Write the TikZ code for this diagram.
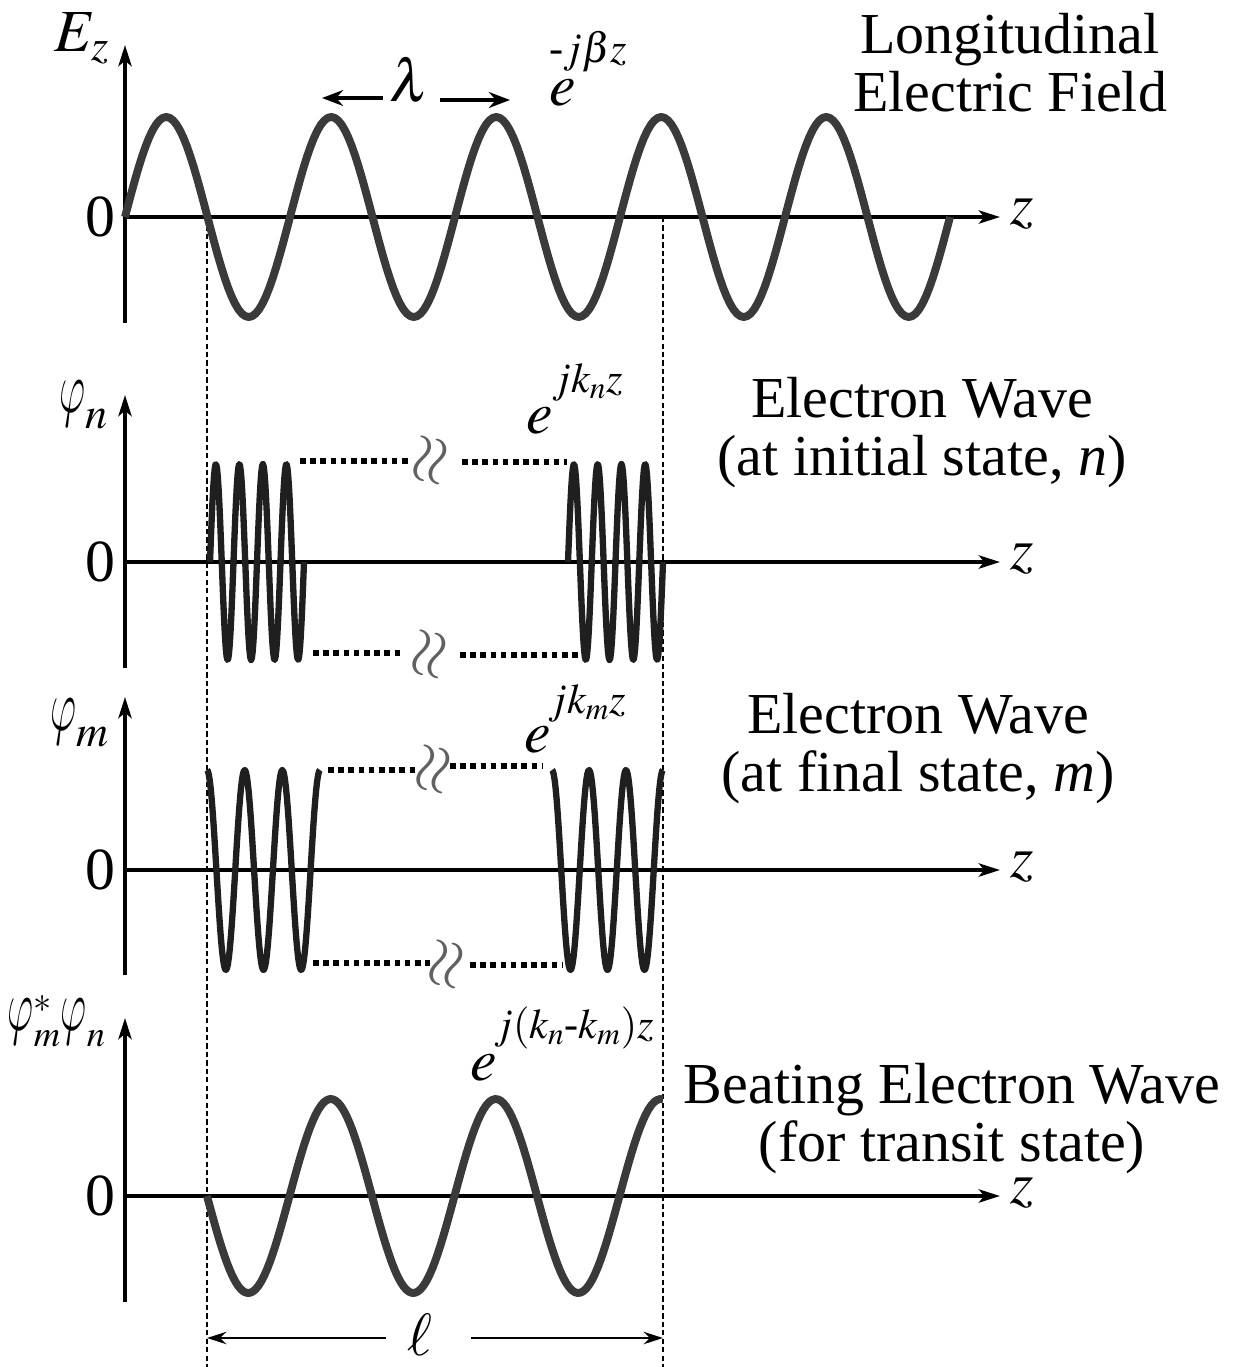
\documentclass[tikz,border=0pt]{standalone}
\usepackage{graphicx}
\usepackage{mathptmx}
\usepackage{fontspec}
\setmainfont{Liberation Serif}
\usetikzlibrary{arrows.meta,positioning}

\DeclareSymbolFont{lmletters}{OML}{lmm}{m}{it}
\DeclareMathSymbol{\cmphi}{\mathord}{lmletters}{"27}
\newcommand{\curlyphi}{\resizebox*{0.52cm}{0.92cm}{$\cmphi$}}

\definecolor{wavegray}{HTML}{3A3A3A}

\begin{document}
\begin{tikzpicture}[
        x=0.02cm, y=-0.02cm,
        every node/.style={inner sep=0pt, outer sep=0pt},
        axis/.style={line width=2.2pt, -{Stealth[length=12pt, width=7.5pt, inset=3pt]}},
        bigwave/.style={line width=4.5pt, draw=wavegray, line join=round},
        fastwave/.style={line width=3.6pt, draw=black!88, line join=round},
        guide/.style={line width=1.3pt, dash pattern=on 3pt off 1.8pt},
        gap/.style={line width=3.2pt, dash pattern=on 3.2pt off 2.6pt},
        brk/.style={text=black!62, rotate=78, font=\fontsize{38}{38}\selectfont},
        lbl/.style={font=\fontsize{34}{36}\selectfont},
        caption/.style={font=\fontsize{33}{33}\selectfont, align=center},
        expo/.style={font=\fontsize{24}{24}\selectfont},
        span/.style={line width=1.5pt, -{Stealth[length=11pt, width=7pt]}},
        lamarrow/.style={line width=2.8pt, -{Stealth[length=12pt, width=9pt]}}
    ]
        \useasboundingbox (0,0) rectangle (1245,1367);

        % Guides
        \draw[guide] (207,217) -- (207,1367);
        \draw[guide] (663,217) -- (663,1367);

        % Longitudinal field
        \node[lbl] (Ez) at (82,38) {$E_z$};
        \node[lbl] (zero1) at (100,217) {0};
        \node[lbl] (z1) at (1022,214) {$z$};
        \draw[axis] (125,323) -- (125,45);
        \draw[axis] (125,217) -- (1000,217);
        \draw[bigwave] plot[domain=125:950, samples=241] (\x, {217-100*sin((\x-125)/165*360)});
        \node[lbl] (lam) at (410,80) {$\lambda$};
        \draw[lamarrow] (383,98) -- (322,98);
        \draw[lamarrow] (440,100) -- (510,100);
        \node[lbl] (e1) at (563,93) {$e$};
        \node[expo, anchor=base west] (x1) at (549,62) {-$j\beta z$};
        \node[caption] (cap1) at (1010,63) {Longitudinal\\Electric Field};

        % Initial state
        \node[lbl, anchor=base] (phin) at (84,412) {$\curlyphi_n$};
        \node[lbl] (zero2) at (100,562) {0};
        \node[lbl] (z2) at (1022,559) {$z$};
        \draw[axis] (125,668) -- (125,395);
        \draw[axis] (125,562) -- (1000,562);
        \draw[fastwave] plot[domain=210:304, samples=120] (\x, {562-98*sin((\x-210)/23.5*360)});
        \draw[fastwave] plot[domain=568:663, samples=120] (\x, {562-98*sin((\x-568)/23.75*360)});
        \draw[gap] (300,461) -- (408,461);
        \node[brk] (brk2a) at (432,461) {$\approx$};
        \draw[gap] (462,462) -- (567,462);
        \draw[gap] (313,653) -- (403,653);
        \node[brk] (brk2b) at (431,655) {$\approx$};
        \draw[gap] (460,655) -- (578,655);
        \node[lbl] (e2) at (540,421) {$e$};
        \node[expo, anchor=base west] (x2) at (552,392) {$jk_n z$};
        \node[caption] (cap2) at (922,433) {Electron Wave\\(at initial state, \textit{n})};

        % Final state
        \node[lbl, anchor=base] (phim) at (80,730) {$\curlyphi_m$};
        \node[lbl] (zero3) at (100,870) {0};
        \node[lbl] (z3) at (1022,867) {$z$};
        \draw[axis] (125,975) -- (125,697);
        \draw[axis] (125,870) -- (1000,870);
        \draw[fastwave] plot[domain=207:320, samples=120] (\x, {870-100*cos((\x-207)/37.67*360)});
        \draw[fastwave] plot[domain=552:663, samples=120] (\x, {870-100*cos((\x-552)/37*360)});
        \draw[gap] (328,770) -- (418,770);
        \node[brk] (brk3a) at (435,770) {$\approx$};
        \draw[gap] (450,766) -- (543,766);
        \draw[gap] (313,963) -- (430,963);
        \node[brk] (brk3b) at (448,965) {$\approx$};
        \draw[gap] (470,965) -- (562,965);
        \node[lbl] (e3) at (538,740) {$e$};
        \node[expo, anchor=base west] (x3) at (548,713) {$jk_m z$};
        \node[caption] (cap3) at (918,749) {Electron Wave\\(at final state, \textit{m})};

        % Transit state
        \node[lbl, anchor=base east, font=\fontsize{28}{30}\selectfont] (beat) at (106,1030) {$\curlyphi_m^*\curlyphi_n$};
        \node[lbl] (zero4) at (100,1196) {0};
        \node[lbl] (z4) at (1022,1193) {$z$};
        \draw[axis] (125,1302) -- (125,1018);
        \draw[axis] (125,1196) -- (1000,1196);
        \draw[bigwave] plot[domain=207:663, samples=161] (\x, {1196+97*sin((\x-207)/165*360)});
        \node[lbl] (e4) at (484,1068) {$e$};
        \node[expo, anchor=base west] (x4) at (494,1038) {$j(k_n$-$k_m)z$};
        \node[caption] (cap4) at (952,1119) {Beating Electron Wave\\(for transit state)};
        \node[lbl] (ell) at (420,1335) {$\ell$};
        \draw[span] (386,1338) -- (207,1338);
        \draw[span] (471,1338) -- (663,1338);
    \end{tikzpicture}
\end{document}
